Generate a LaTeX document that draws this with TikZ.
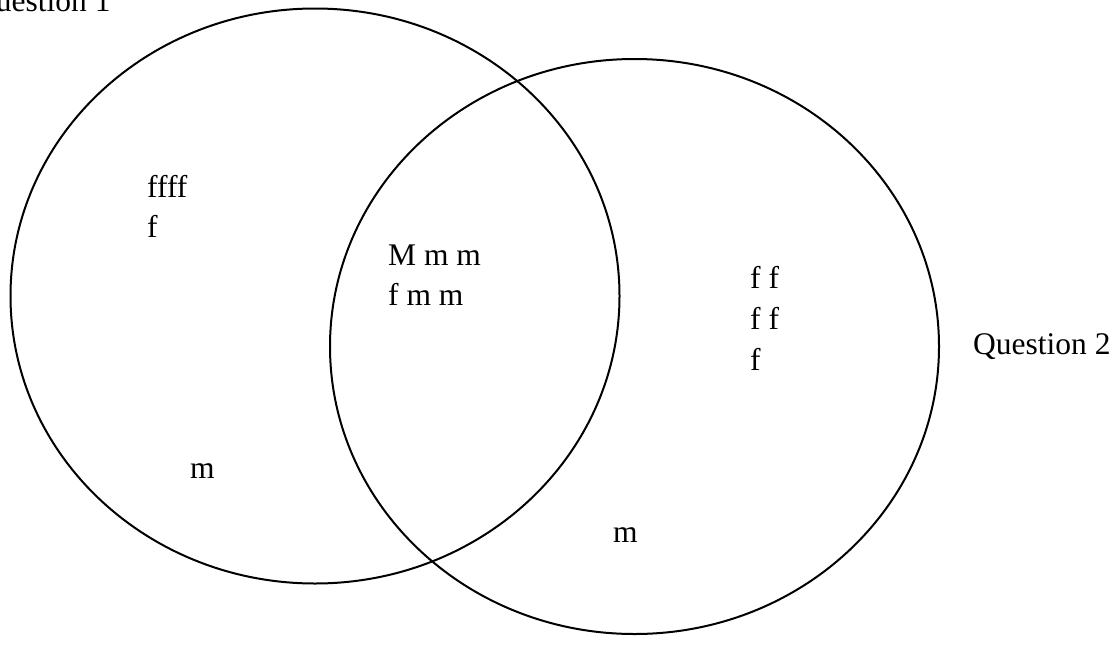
\documentclass[tikz,border=0pt]{standalone}
\usepackage{fontspec}
\setmainfont{Liberation Serif}
\begin{document}
\begin{tikzpicture}[x=1pt,y=-1pt,
  venn/.style={draw=black,line width=2pt},
  lbl/.style={anchor=base west,inner sep=0pt,font=\fontsize{31.5}{40}\selectfont}]
\useasboundingbox (0,0) rectangle (1116,664);
\fill[white] (0,0) rectangle (1116,664);
\draw[venn] (315,296) ellipse [x radius=304.5, y radius=287.5];
\draw[venn] (634.5,346.5) ellipse [x radius=304.5, y radius=287.5];
\node[lbl] (q1) at (-27,11) {Question 1};
\node[lbl] (q2) at (973,354) {Question 2};
\node[lbl] (a1) at (147,197) {ffff};
\node[lbl] (a2) at (147,237) {f};
\node[lbl] (a3) at (190,478) {m};
\node[lbl] (b1) at (388,265) {M m m};
\node[lbl] (b2) at (388,305) {f m m};
\node[lbl] (c1) at (750,288) {f f};
\node[lbl] (c2) at (750,329) {f f};
\node[lbl] (c3) at (750,370) {f};
\node[lbl] (c4) at (613,542) {m};
\end{tikzpicture}
\end{document}
